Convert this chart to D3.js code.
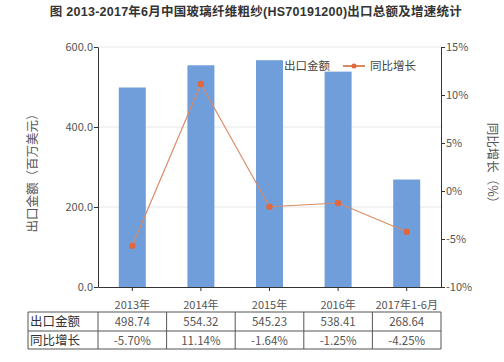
<!DOCTYPE html>
<html>
<head>
<meta charset="utf-8">
<script src="https://cdn.jsdelivr.net/npm/d3@7"></script>
<style>
body { margin: 0; background: #fff; }
text { font-family: "Noto Sans CJK SC", "Noto Sans", sans-serif; }
</style>
</head>
<body>
<svg id="chart" width="504" height="362"></svg>
<script>
var categories = ["2013年", "2014年", "2015年", "2016年", "2017年1-6月"];
var exportValues = [498.74, 554.32, 567, 538.41, 268.64];
var growthValues = [-5.70, 11.14, -1.64, -1.25, -4.25];
var exportLabels = ["498.74", "554.32", "545.23", "538.41", "268.64"];
var growthLabels = ["-5.70%", "11.14%", "-1.64%", "-1.25%", "-4.25%"];
var leftTicks = [0, 200, 400, 600];
var rightTicks = [-10, -5, 0, 5, 10, 15];

var svg = d3.select("#chart");
var pLeft = 98, pRight = 441, pTop = 47, pBottom = 287;

var xc = d3.scaleBand().domain(categories).range([pLeft, pRight]);
var y = d3.scaleLinear().domain([0, 600]).range([pBottom, pTop]);
var y2 = d3.scaleLinear().domain([-10, 15]).range([pBottom, pTop]);

// title
svg.append("text")
    .attr("x", 256).attr("y", 16)
    .attr("text-anchor", "middle")
    .style("font-family", "'Liberation Sans', 'Noto Sans CJK SC', sans-serif")
    .style("font-size", "12.5px").style("font-weight", "bold").style("fill", "#333")
    .style("letter-spacing", "0.25px")
    .text("图 2013-2017年6月中国玻璃纤维粗纱(HS70191200)出口总额及增速统计");

// grid
svg.append("g").selectAll("line").data(leftTicks.slice(1)).enter().append("line")
    .attr("x1", pLeft).attr("x2", pRight)
    .attr("y1", function (d) { return y(d); }).attr("y2", function (d) { return y(d); })
    .style("stroke", "#e6e6e6").style("stroke-width", 1);

// bars
svg.append("g").selectAll("rect").data(exportValues).enter().append("rect")
    .attr("x", function (d, i) { return xc(categories[i]) + (xc.bandwidth() - 27) / 2; })
    .attr("width", 27)
    .attr("y", function (d) { return y(d); })
    .attr("height", function (d) { return pBottom - y(d); })
    .style("fill", "#6f9edb");

// line
var line = d3.line()
    .x(function (d, i) { return xc(categories[i]) + xc.bandwidth() / 2; })
    .y(function (d) { return y2(d); });
svg.append("path").datum(growthValues).attr("d", line)
    .style("fill", "none").style("stroke", "#d98a63").style("stroke-width", 1.2);
svg.append("g").selectAll("circle").data(growthValues).enter().append("circle")
    .attr("cx", function (d, i) { return xc(categories[i]) + xc.bandwidth() / 2; })
    .attr("cy", function (d) { return y2(d); })
    .attr("r", 3.2).style("fill", "#e0673f");

// axes
var axL = svg.append("g").attr("transform", "translate(" + pLeft + ",0)")
    .call(d3.axisLeft(y).tickValues(leftTicks).tickFormat(d3.format(".1f")).tickSize(4).tickSizeOuter(0));
var axR = svg.append("g").attr("transform", "translate(" + pRight + ",0)")
    .call(d3.axisRight(y2).tickValues(rightTicks).tickFormat(function (d) { return d + "%"; }).tickSize(4).tickSizeOuter(0));
var axB = svg.append("g").attr("transform", "translate(0," + pBottom + ")")
    .call(d3.axisBottom(xc).tickSize(4).tickSizeOuter(0));
[axL, axR, axB].forEach(function (a) {
    a.select(".domain").style("stroke", "#333");
    a.selectAll(".tick line").style("stroke", "#333");
    a.selectAll("text").style("font-size", "11px").style("fill", "#555")
        .style("font-family", "'Noto Sans CJK SC', sans-serif");
});
axL.selectAll("text").attr("x", -5);
axR.selectAll("text").attr("x", 5);
axB.selectAll("text").attr("dy", "1.35em");

// axis titles
svg.append("text")
    .attr("transform", "translate(37,170) rotate(-90)")
    .attr("text-anchor", "middle")
    .style("font-size", "12.5px").style("fill", "#555")
    .text("出口金额（百万美元）");
svg.append("text")
    .attr("transform", "translate(488,166) rotate(90)")
    .attr("text-anchor", "middle")
    .style("font-size", "12.5px").style("fill", "#555")
    .text("同比增长（%）");

// legend
var lg = svg.append("g");
lg.append("rect").attr("x", 271).attr("y", 61).attr("width", 9).attr("height", 9).style("fill", "#6f9edb");
lg.append("text").attr("x", 284).attr("y", 70).style("font-size", "11.5px").style("fill", "#444").text("出口金额");
lg.append("line").attr("x1", 343).attr("x2", 365).attr("y1", 66).attr("y2", 66)
    .style("stroke", "#d98a63").style("stroke-width", 2);
lg.append("circle").attr("cx", 354).attr("cy", 66).attr("r", 2.5).style("fill", "#e0673f");
lg.append("text").attr("x", 370).attr("y", 70).style("font-size", "11.5px").style("fill", "#444").text("同比增长");

// data table
var tTop = 312, tMid = 331, tBot = 349, tLeft = 28;
var tbl = svg.append("g");
var colEdges = [tLeft].concat(categories.map(function (c) { return xc(c); })).concat([pRight]);
tbl.selectAll("line.h").data([tTop, tMid, tBot]).enter().append("line")
    .attr("x1", tLeft).attr("x2", pRight)
    .attr("y1", function (d) { return d; }).attr("y2", function (d) { return d; })
    .style("stroke", "#555").style("stroke-width", 1);
tbl.selectAll("line.v").data(colEdges).enter().append("line")
    .attr("x1", function (d) { return d; }).attr("x2", function (d) { return d; })
    .attr("y1", tTop).attr("y2", tBot)
    .style("stroke", "#555").style("stroke-width", 1);
var rows = [["出口金额", exportLabels, tTop, tMid], ["同比增长", growthLabels, tMid, tBot]];
rows.forEach(function (r) {
    var ry = (r[2] + r[3]) / 2 + 4.5;
    tbl.append("text").attr("x", tLeft + 2).attr("y", ry)
        .style("font-size", "12.5px").style("fill", "#333").text(r[0]);
    tbl.selectAll(null).data(r[1]).enter().append("text")
        .attr("x", function (d, i) { return xc(categories[i]) + xc.bandwidth() / 2; })
        .attr("y", ry)
        .attr("text-anchor", "middle")
        .style("font-size", "11.5px").style("fill", "#555")
        .text(function (d) { return d; });
});
</script>
</body>
</html>
